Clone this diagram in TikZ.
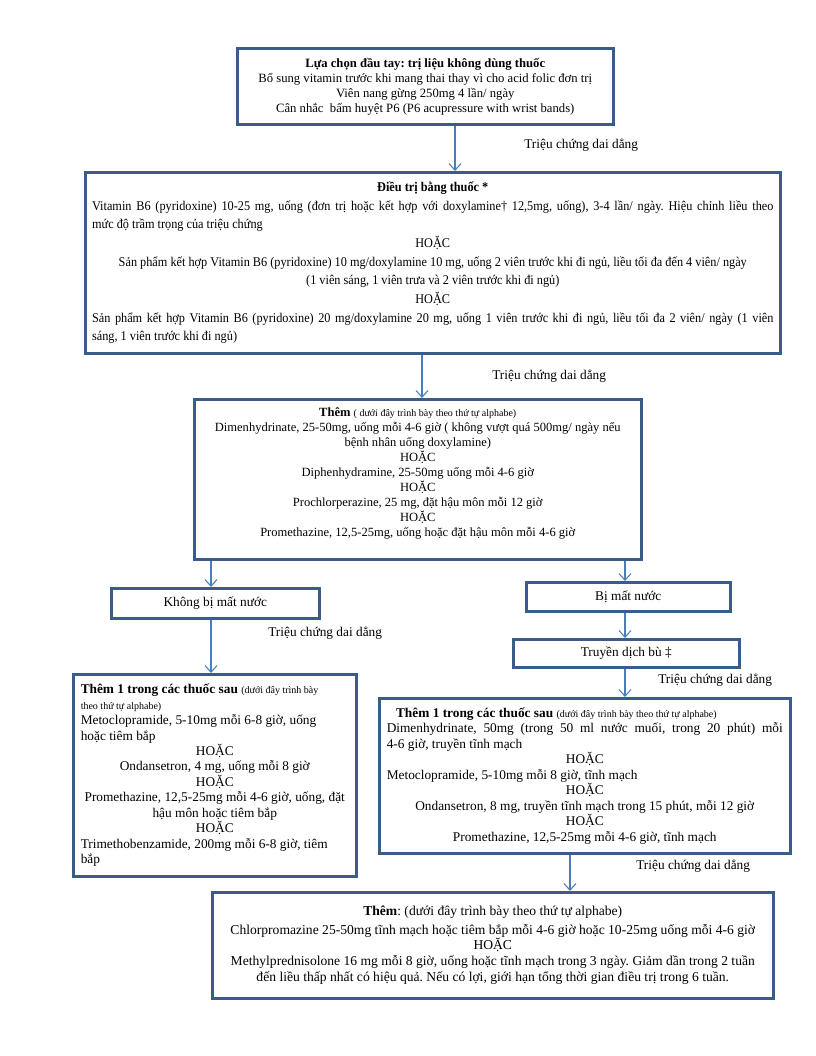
\documentclass[tikz,border=0pt]{standalone}
\usepackage{fontspec}
\setmainfont{Liberation Serif}
\newfontfamily\narrowfont[FakeStretch = 0.92]{Liberation Serif}
\usepackage{tikz}
\usetikzlibrary{arrows.meta}
\tikzset{>={Straight Barb[length = 5pt, width = 9pt]}}
\definecolor{boxblue}{RGB}{56, 93, 138}
\definecolor{arrowblue}{RGB}{74, 126, 187}
\setlength{\parindent}{0pt}
\frenchspacing
\newcommand{\smallfont}{\fontsize{7.5}{9}\selectfont}
\newcommand{\lowstrut}{\rule[-11pt]{0pt}{11pt}}

\begin{document}
\begin{tikzpicture}[x = 0.75pt, y = -0.75pt,
  box/.style = {draw = boxblue, line width = 1.9pt, anchor = north west, inner xsep = 5pt, inner ysep = 2pt, font = \fontsize{10}{11.6}\selectfont},
  flow/.style = {->, draw = arrowblue, line width = 0.8pt},
  lbl/.style = {anchor = west, inner sep = 0pt, font = \fontsize{10}{12}\selectfont}]
\useasboundingbox (0,0) rectangle (816,1056);
\node[box, minimum width = 282pt, minimum height = 57pt, align = center, font = \fontsize{9.5}{11.25}\selectfont] (first) at (236,47) {\textbf{Lựa chọn đầu tay: trị liệu không dùng thuốc}\\ Bổ sung vitamin trước khi mang thai thay vì cho acid folic đơn trị\\ Viên nang gừng 250mg 4 lần/ ngày\\ Cân nhắc~ bấm huyệt P6 (P6 acupressure with wrist bands)};
\node[box, minimum width = 521.25pt, minimum height = 135.75pt, text width = 511pt, align = justify, font = \narrowfont\fontsize{10}{14}\selectfont] (drug) at (84,171) {{\centering\textbf{Điều trị bằng thuốc *}\par}
Vitamin B6 (pyridoxine) 10-25 mg, uống (đơn trị hoặc kết hợp với doxylamine† 12,5mg, uống), 3-4 lần/ ngày. Hiệu chỉnh liều theo\linebreak mức độ trầm trọng của triệu chứng\par
{\centering HOẶC\\ Sản phẩm kết hợp Vitamin B6 (pyridoxine) 10 mg/doxylamine 10 mg, uống 2 viên trước khi đi ngủ, liều tối đa đến 4 viên/ ngày\\ (1 viên sáng, 1 viên trưa và 2 viên trước khi đi ngủ)\\ HOẶC\par}
Sản phẩm kết hợp Vitamin B6 (pyridoxine) 20 mg/doxylamine 20 mg, uống 1 viên trước khi đi ngủ, liều tối đa 2 viên/ ngày (1 viên\linebreak sáng, 1 viên trước khi đi ngủ)\par};
\node[box, minimum width = 335.25pt, minimum height = 120pt, align = center, font = \fontsize{9.4}{11.3}\selectfont] (add) at (193,398) {\textbf{Thêm} {\smallfont ( dưới đây trình bày theo thứ tự alphabe)}\\ Dimenhydrinate, 25-50mg, uống mỗi 4-6 giờ ( không vượt quá 500mg/ ngày nếu\\ bệnh nhân uống doxylamine)\\ HOẶC\\ Diphenhydramine, 25-50mg uống mỗi 4-6 giờ\\ HOẶC\\ Prochlorperazine, 25 mg, đặt hậu môn mỗi 12 giờ\\ HOẶC\\ Promethazine, 12,5-25mg, uống hoặc đặt hậu môn mỗi 4-6 giờ\lowstrut};
\node[box, minimum width = 156pt, minimum height = 22.5pt] (nodehyd) at (110,587) {Không bị mất nước};
\node[box, minimum width = 153pt, minimum height = 21.75pt] (dehyd) at (525,581) {Bị mất nước};
\node[box, minimum width = 169.5pt, minimum height = 21pt] (fluid) at (512,638) {Truyền dịch bù ‡};
\node[box, minimum width = 212.25pt, minimum height = 151.5pt, text width = 201pt, align = justify] (oral) at (72,673) {\textbf{Thêm 1 trong các thuốc sau} {\smallfont (dưới đây trình bày\\ theo thứ tự alphabe)}\\ Metoclopramide, 5-10mg mỗi 6-8 giờ, uống\\ hoặc tiêm bắp\par
{\centering HOẶC\\ Ondansetron, 4 mg, uống mỗi 8 giờ\\ HOẶC\\ Promethazine, 12,5-25mg mỗi 4-6 giờ, uống, đặt\\ hậu môn hoặc tiêm bắp\\ HOẶC\par}
Trimethobenzamide, 200mg mỗi 6-8 giờ, tiêm\\ bắp\par};
\node[box, minimum width = 308.25pt, minimum height = 116.25pt, text width = 297pt, align = justify] (iv) at (378,697) {\hspace*{7pt}\textbf{Thêm 1 trong các thuốc sau} {\smallfont (dưới đây trình bày theo thứ tự alphabe)}\\ Dimenhydrinate, 50mg (trong 50 ml nước muối, trong 20 phút) mỗi\linebreak 4-6 giờ, truyền tĩnh mạch\par
{\centering HOẶC\par}
Metoclopramide, 5-10mg mỗi 8 giờ, tĩnh mạch\par
{\centering HOẶC\\ Ondansetron, 8 mg, truyền tĩnh mạch trong 15 phút, mỗi 12 giờ\\ HOẶC\\ Promethazine, 12,5-25mg mỗi 4-6 giờ, tĩnh mạch\par}};
\node[box, minimum width = 420.75pt, minimum height = 79.5pt, align = center, font = \fontsize{10.2}{11.8}\selectfont] (last) at (211,891) {\textbf{Thêm}: (dưới đây trình bày theo thứ tự alphabe)\\[2pt] Chlorpromazine 25-50mg tĩnh mạch hoặc tiêm bắp mỗi 4-6 giờ hoặc 10-25mg uống mỗi 4-6 giờ\\ HOẶC\\ Methylprednisolone 16 mg mỗi 8 giờ, uống hoặc tĩnh mạch trong 3 ngày. Giảm dần trong 2 tuần\\ đến liều thấp nhất có hiệu quả. Nếu có lợi, giới hạn tổng thời gian điều trị trong 6 tuần.};
\draw[flow] (first.south -| 455,0) -- (drug.north -| 455,0);
\draw[flow] (drug.south -| 422,0) -- (add.north -| 422,0);
\draw[flow] (add.south -| 211,0) -- (nodehyd.north -| 211,0);
\draw[flow] (add.south -| 625,0) -- (dehyd.north -| 625,0);
\draw[flow] (nodehyd.south -| 211,0) -- (oral.north -| 211,0);
\draw[flow] (dehyd.south -| 625,0) -- (fluid.north -| 625,0);
\draw[flow] (fluid.south -| 625,0) -- (iv.north -| 625,0);
\draw[flow] (iv.south -| 570,0) -- (last.north -| 570,0);
\node[lbl] (persist1) at (524,145) {Triệu chứng dai dẳng};
\node[lbl] (persist2) at (492,376) {Triệu chứng dai dẳng};
\node[lbl] (persist3) at (268,633) {Triệu chứng dai dẳng};
\node[lbl] (persist4) at (658,680) {Triệu chứng dai dẳng};
\node[lbl] (persist5) at (636,866) {Triệu chứng dai dẳng};
\end{tikzpicture}
\end{document}
